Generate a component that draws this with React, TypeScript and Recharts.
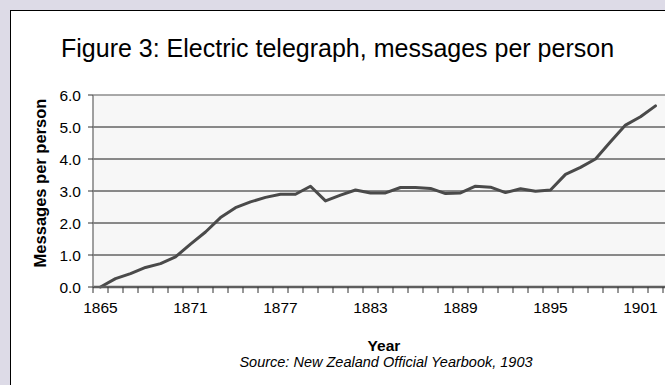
import React from 'react';
import { LineChart, Line, XAxis, YAxis, CartesianGrid, ReferenceLine } from 'recharts';

const years = [
  1865, 1866, 1867, 1868, 1869, 1870, 1871, 1872, 1873, 1874,
  1875, 1876, 1877, 1878, 1879, 1880, 1881, 1882, 1883, 1884,
  1885, 1886, 1887, 1888, 1889, 1890, 1891, 1892, 1893, 1894,
  1895, 1896, 1897, 1898, 1899, 1900, 1901, 1902,
];

const messagesPerPerson = [
  0.0, 0.26, 0.42, 0.61, 0.73, 0.94, 1.34, 1.72, 2.17, 2.48,
  2.66, 2.8, 2.9, 2.9, 3.15, 2.69, 2.87, 3.03, 2.94, 2.94,
  3.11, 3.11, 3.08, 2.92, 2.94, 3.15, 3.12, 2.95, 3.07, 2.99,
  3.03, 3.52, 3.74, 4.0, 4.54, 5.06, 5.32, 5.66,
];

const xTickLabels = ['1865', '1871', '1877', '1883', '1889', '1895', '1901'];
const yTicks = [0, 1, 2, 3, 4, 5, 6];
const gridValues = [1, 2, 3, 4, 5];
const categoryCount = 39;

const data = years.map((year, i) => ({ pos: i + 0.5, year, value: messagesPerPerson[i] }));
const xTicks = Array.from({ length: categoryCount + 1 }, (_, i) => i);

const FONT = 'Arial, "Liberation Sans", Helvetica, sans-serif';

const XTick = (props: any) => {
  const { x, y, payload } = props;
  const k = payload.value;
  if (k % 6 !== 0) return null;
  const label = xTickLabels[k / 6];
  if (!label) return null;
  return (
    <text x={x + 7.5} y={y + 18} textAnchor="middle" fontSize={15.5} fill="#000" fontFamily={FONT}>
      {label}
    </text>
  );
};

export default function App() {
  return (
    <div
      style={{
        position: 'absolute',
        left: 0,
        top: 0,
        width: 665,
        height: 385,
        overflow: 'hidden',
        background: '#DDDBE7',
        fontFamily: FONT,
      }}
    >
      <div
        style={{
          position: 'absolute',
          left: 10,
          top: 10,
          width: 720,
          height: 420,
          background: '#fff',
          border: '1px solid #000',
          boxSizing: 'border-box',
        }}
      />
      <div style={{ position: 'absolute', left: 0, top: 0 }}>
        <LineChart width={700} height={385} data={data} margin={{ top: 95, right: 22, left: 53, bottom: 68 }}>
          <CartesianGrid
            vertical={false}
            horizontalValues={gridValues}
            stroke="#1a1a1a"
            strokeWidth={1}
            fill="#F7F7F7"
          />
          <ReferenceLine y={6} stroke="#8c8c8c" strokeWidth={1.5} />
          <XAxis
            type="number"
            dataKey="pos"
            domain={[0, categoryCount]}
            ticks={xTicks}
            interval={0}
            allowDataOverflow
            height={30}
            tickSize={6}
            axisLine={{ stroke: '#5e5e5e', strokeWidth: 2.5 }}
            tickLine={{ stroke: '#333' }}
            tick={<XTick />}
          />
          <YAxis
            type="number"
            domain={[0, 6]}
            ticks={yTicks}
            interval={0}
            width={40}
            tickSize={5}
            tickMargin={7}
            tickFormatter={(v: number) => v.toFixed(1)}
            axisLine={{ stroke: '#808080', strokeWidth: 1.5 }}
            tickLine={{ stroke: '#333' }}
            tick={{ fill: '#000', fontSize: 15.5, fontFamily: FONT }}
          />
          <Line
            type="linear"
            dataKey="value"
            stroke="#4a4a4a"
            strokeWidth={3}
            dot={false}
            strokeLinejoin="round"
            strokeLinecap="round"
            isAnimationActive={false}
          />
        </LineChart>
      </div>
      <svg width={665} height={385} style={{ position: 'absolute', left: 0, top: 0, pointerEvents: 'none' }}>
        <text x={61} y={57} fontSize={25} fill="#000" fontFamily={FONT}>
          Figure 3: Electric telegraph, messages per person
        </text>
        <text
          x={46}
          y={183}
          transform="rotate(-90 46 183)"
          textAnchor="middle"
          fontSize={16.5}
          fontWeight="bold"
          fill="#000"
          fontFamily={FONT}
        >
          Messages per person
        </text>
        <text x={384} y={351} textAnchor="middle" fontSize={15.5} fontWeight="bold" fill="#000" fontFamily={FONT}>
          Year
        </text>
        <text x={386} y={367} textAnchor="middle" fontSize={14.5} fontStyle="italic" fill="#000" fontFamily={FONT}>
          Source: New Zealand Official Yearbook, 1903
        </text>
      </svg>
    </div>
  );
}
